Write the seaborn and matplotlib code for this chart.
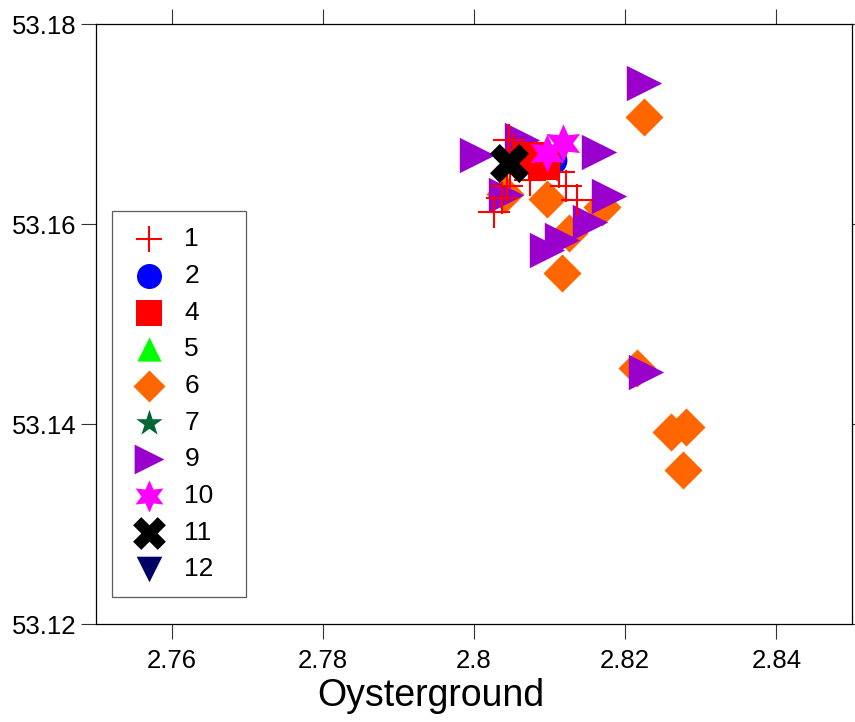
import numpy as np
import pandas as pd
import matplotlib
matplotlib.use('Agg')
import matplotlib.pyplot as plt
import seaborn as sns

# station positions per group (lon, lat)
lon_1 = [2.8046, 2.8052, 2.8047, 2.8043, 2.8037, 2.8026, 2.8074, 2.8113, 2.8122, 2.8136]
lat_1 = [53.1684, 53.1674, 53.1652, 53.1638, 53.1626, 53.1612, 53.1644, 53.1652, 53.1638, 53.1624]
lon_2 = [2.8103]
lat_2 = [53.1664]
lon_4 = [2.8071, 2.8092]
lat_4 = [53.1666, 53.1660]
lon_5 = [2.8092]
lat_5 = [53.1660]
lon_6 = [2.8225, 2.8041, 2.8096, 2.8169, 2.8125, 2.8116, 2.8080, 2.8215, 2.8260, 2.8281, 2.8277]
lat_6 = [53.1707, 53.1630, 53.1625, 53.1617, 53.1591, 53.1551, 53.1666, 53.1456, 53.1392, 53.1397, 53.1354]
lon_7 = [2.8098]
lat_7 = [53.1656]
lon_9 = [2.8225, 2.8004, 2.8166, 2.8179, 2.8153, 2.8117, 2.8097, 2.8042, 2.8228, 2.8063]
lat_9 = [53.1741, 53.1669, 53.1672, 53.1628, 53.1602, 53.1584, 53.1574, 53.1629, 53.1452, 53.1684]
lon_10 = [2.8097, 2.8118]
lat_10 = [53.1671, 53.1681]
lon_11 = [2.8046]
lat_11 = [53.1661]
lon_12 = [2.8093]
lat_12 = [53.1662]

groups = ['1', '2', '4', '5', '6', '7', '9', '10', '11', '12']
lons = [lon_1, lon_2, lon_4, lon_5, lon_6, lon_7, lon_9, lon_10, lon_11, lon_12]
lats = [lat_1, lat_2, lat_4, lat_5, lat_6, lat_7, lat_9, lat_10, lat_11, lat_12]

x_ticks = [2.76, 2.78, 2.80, 2.82, 2.84]
x_labels = ['2.76', '2.78', '2.8', '2.82', '2.84']
y_ticks = [53.12, 53.14, 53.16, 53.18]
y_labels = ['53.12', '53.14', '53.16', '53.18']

df = pd.concat([pd.DataFrame({'lon': lo, 'lat': la, 'group': g})
                for g, lo, la in zip(groups, lons, lats)], ignore_index=True)

# look per group: marker, colour, size (pt^2), z-order
style = {
    '1':  ('+', '#FF0000', 530, 2.4),
    '2':  ('o', '#0000FF', 460, 2.2),
    '4':  ('s', '#FF0000', 530, 2.3),
    '5':  ('^', '#00FF00', 430, 2.2),
    '6':  ('D', '#FF6600', 376, 2.0),
    '7':  ('*', '#006633', 560, 2.2),
    '9':  ('>', '#9900CC', 650, 2.1),
    '10': ((6, 1, 0), '#FF00FF', 760, 2.5),
    '11': ('X', '#000000', 790, 2.6),
    '12': ('v', '#000066', 480, 2.2),
}

sns.set_style('ticks')
plt.rcParams['font.family'] = ['Liberation Sans', 'DejaVu Sans']
plt.rcParams['text.color'] = 'black'
plt.rcParams['xtick.labelcolor'] = 'black'
plt.rcParams['ytick.labelcolor'] = 'black'

fig = plt.figure(figsize=(8.55, 7.22), dpi=100)
ax = fig.add_axes([96 / 855, 98 / 722, 756 / 855, 600 / 722])

for g in groups:
    m, c, s, z = style[g]
    sub = df[df['group'] == g]
    if g == '1':
        sns.scatterplot(data=sub, x='lon', y='lat', marker=m, color=c, s=s,
                        linewidth=1.5, zorder=z, label=g, ax=ax)
    else:
        sns.scatterplot(data=sub, x='lon', y='lat', marker=m, color=c, s=s,
                        edgecolor=c, linewidth=0, zorder=z, label=g, ax=ax)

ax.set_xlim(2.75, 2.85)
ax.set_ylim(53.12, 53.18)
ax.set_xticks(x_ticks)
ax.set_xticklabels(x_labels)
ax.set_yticks(y_ticks)
ax.set_yticklabels(y_labels)
ax.set_xlabel('')
ax.set_ylabel('')

for sp in ax.spines.values():
    sp.set_visible(True)
    sp.set_linewidth(0.9)
    sp.set_color('black')
ax.tick_params(axis='both', which='major', direction='out', length=11, width=0.8,
               color='#333333', labelcolor='black', labelsize=18.5, top=True,
               right=True, labeltop=False, labelright=False)
ax.tick_params(axis='x', pad=7)
ax.tick_params(axis='y', pad=3)

leg = ax.legend(loc='lower left', bbox_to_anchor=(0.021, 0.045, 134 / 756, 0.64),
                mode='expand', borderaxespad=0,
                frameon=True, fancybox=False, edgecolor='#333333', fontsize=19,
                markerscale=0.84, labelspacing=0.48, handletextpad=0.55,
                borderpad=0.6, handlelength=1.6)
leg.get_frame().set_linewidth(0.9)
for t in leg.get_texts():
    t.set_color('black')

fig.text(431 / 855, (722 - 706) / 722, 'Oysterground', fontsize=27,
         color='black', ha='center', va='baseline')

fig.savefig('out.png', dpi=100)
